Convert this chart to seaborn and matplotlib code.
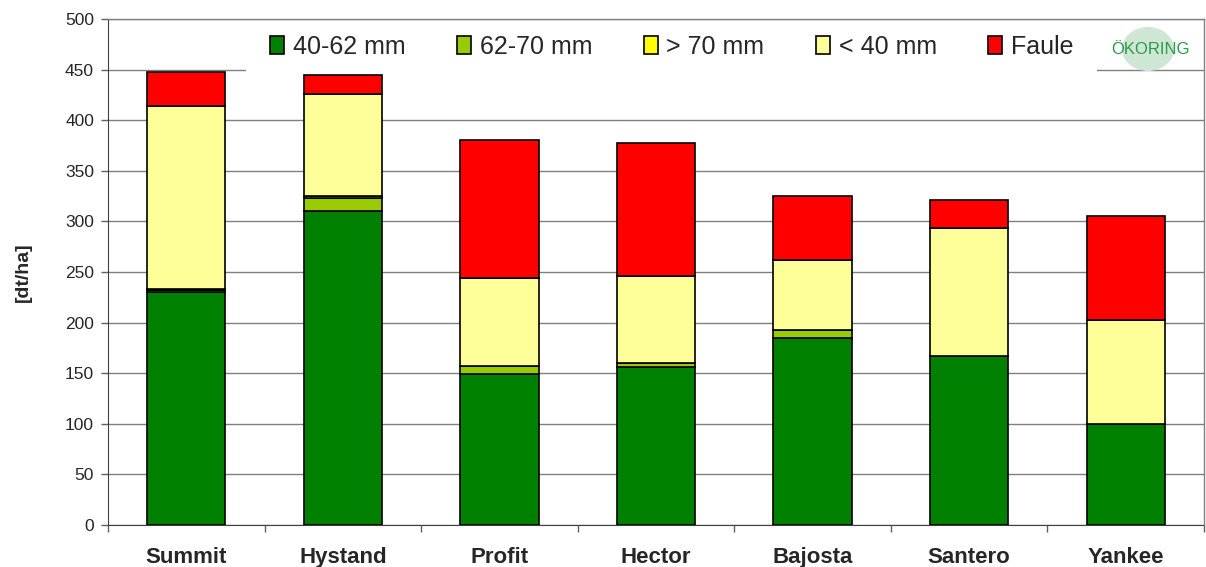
import pandas as pd
import numpy as np
import matplotlib
matplotlib.use("Agg")
import matplotlib.pyplot as plt
from matplotlib.patches import Patch, Ellipse, Rectangle
from matplotlib.ticker import MultipleLocator, FixedLocator
import seaborn as sns

# values [dt/ha]
sorten = ['Summit', 'Hystand', 'Profit', 'Hector', 'Bajosta', 'Santero', 'Yankee']
klassen = ['40-62 mm', '62-70 mm', '> 70 mm', '< 40 mm', 'Faule']
v_40_62 = [230, 310, 149, 156, 185, 167, 100]
v_62_70 = [2, 13, 8, 4, 8, 0, 0]
v_gt70 = [1, 2, 0, 0, 0, 0, 0]
v_lt40 = [181, 101, 87, 86, 69, 126, 103]
v_faule = [34, 19, 136, 131, 63, 28, 102]
farben = ['#008000', '#99CC00', '#FFFF00', '#FFFF99', '#FF0000']

werte = {'40-62 mm': v_40_62, '62-70 mm': v_62_70, '> 70 mm': v_gt70,
         '< 40 mm': v_lt40, 'Faule': v_faule}
rows = []
for k in klassen:
    for s, v in zip(sorten, werte[k]):
        rows.append({'Sorte': s, 'Klasse': k, 'Ertrag': v})
df = pd.DataFrame(rows)

sns.set_style('white')
plt.rcParams['font.family'] = ['Liberation Sans', 'DejaVu Sans']

fig = plt.figure(figsize=(12.06, 5.67), dpi=100)
ax = fig.add_axes([108 / 1206, 1 - 525 / 567, 1096 / 1206, 506 / 567])

# seaborn stacks the first hue level on top, so hand it in reversed
sns.histplot(data=df, x='Sorte', weights='Ertrag', hue='Klasse',
             hue_order=klassen[::-1], palette=dict(zip(klassen, farben)),
             multiple='stack', discrete=True, shrink=0.5, alpha=1,
             edgecolor='black', linewidth=1.2, legend=False, ax=ax, zorder=3)

ax.set_xlim(-0.5, len(sorten) - 0.5)
ax.set_ylim(0, 500)
ax.yaxis.set_major_locator(MultipleLocator(50))
ax.set_xticks(range(len(sorten)))
ax.set_xticklabels(sorten, fontsize=16, fontweight='bold')
ax.xaxis.set_minor_locator(FixedLocator(np.arange(-0.5, len(sorten), 1)))
ax.tick_params(axis='x', which='major', length=0, pad=16)
ax.tick_params(axis='x', which='minor', length=5, width=1, color='#606060',
               direction='out', bottom=True)
ax.tick_params(axis='y', length=5, width=1, color='#606060', direction='out',
               left=True, labelsize=12.5, pad=5)
ax.set_xlabel('')
ax.set_ylabel('[dt/ha]', fontsize=14, fontweight='bold', labelpad=24)

ax.grid(axis='y', color='#808080', linewidth=1, zorder=0)
ax.set_axisbelow(True)
for side in ['top', 'right']:
    ax.spines[side].set_color('#808080')
    ax.spines[side].set_linewidth(1)
    ax.spines[side].set_zorder(6)
ax.spines['left'].set_color('#404040')
ax.spines['bottom'].set_color('#404040')

# white legend area covering the grid line
ax.add_patch(Rectangle((0.126, 0.893), 0.776, 0.1, transform=ax.transAxes,
                       facecolor='white', edgecolor='none', zorder=4,
                       clip_on=False))
handles = [Patch(facecolor=c, edgecolor='black', linewidth=1.2, label=k)
           for k, c in zip(klassen, farben)]
leg = ax.legend(handles=handles, ncol=5, loc='upper left',
                bbox_to_anchor=(0.148, 0.969), borderaxespad=0, borderpad=0,
                frameon=False, fontsize=18, handlelength=0.55,
                handleheight=0.7, handletextpad=0.35, columnspacing=2.07)
leg.set_zorder(5)

# Oekoring logo, top right
fig.add_artist(Ellipse((1148 / 1206, 1 - 49 / 567), 52 / 1206, 44 / 567,
                       transform=fig.transFigure, facecolor='#cfe6d4',
                       edgecolor='none', zorder=6))
fig.text(1150 / 1206, 1 - 49 / 567, 'ÖKORING', color='#2a9a4a', fontsize=12,
         ha='center', va='center', zorder=7)

plt.savefig('out.png', dpi=100)
